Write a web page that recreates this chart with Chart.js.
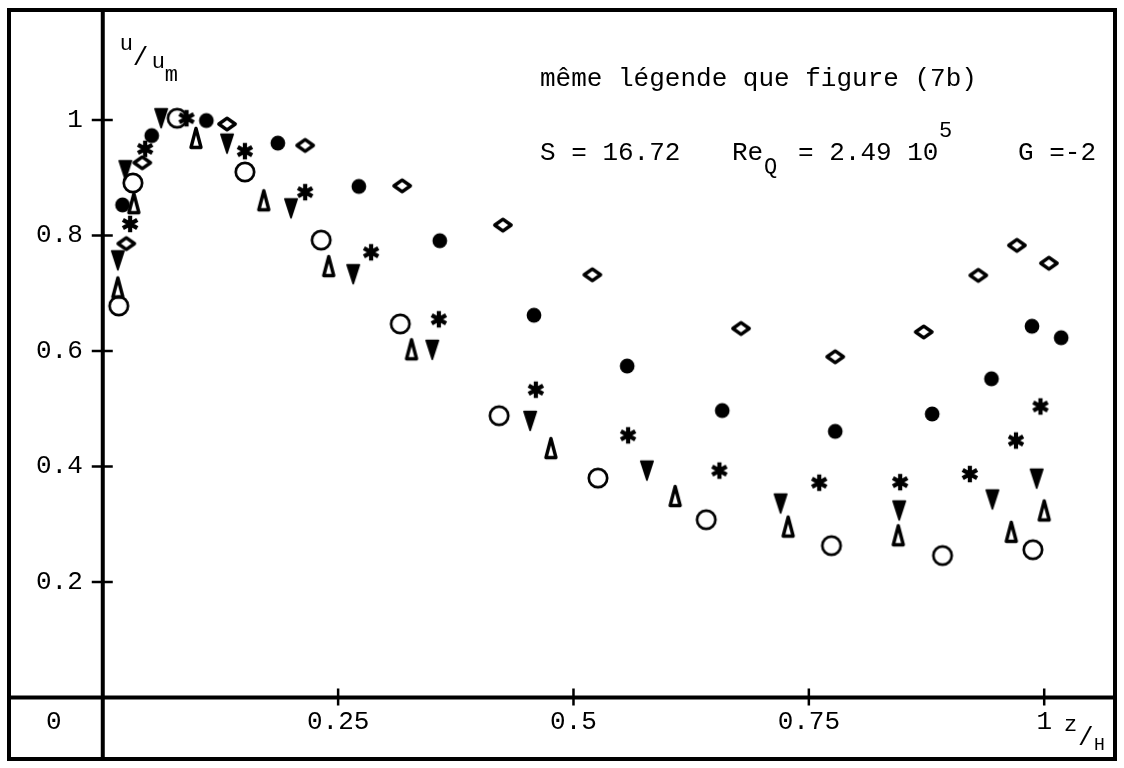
<!DOCTYPE html>
<html lang="fr">
<head>
  <meta charset="UTF-8" />
  <title>u/um en fonction de z/H</title>
  <script src="https://cdn.jsdelivr.net/npm/chart.js"></script>
  <style>
    html, body { margin: 0; padding: 0; background: #fff; }
    #wrap { width: 1124px; height: 768px; }
  </style>
</head>
<body>
  <div id="wrap"><canvas id="profil" width="1124" height="768"></canvas></div>

  <script>
    // axis ticks
    const xTicks = [0.25, 0.5, 0.75, 1];
    const xTickLabels = ['0.25', '0.5', '0.75', '1'];
    const yTicks = [0.2, 0.4, 0.6, 0.8, 1];
    const yTickLabels = ['0.2', '0.4', '0.6', '0.8', '1'];

    // velocity profiles, z/H -> u/um (six series)
    const circleX = [0.017, 0.032, 0.079, 0.151, 0.232, 0.316, 0.421, 0.526, 0.641, 0.774, 0.892, 0.988];
    const circleY = [0.678, 0.891, 1.003, 0.910, 0.792, 0.647, 0.488, 0.380, 0.308, 0.263, 0.246, 0.256];

    const dotX = [0.021, 0.052, 0.110, 0.186, 0.272, 0.358, 0.458, 0.557, 0.658, 0.778, 0.881, 0.944, 0.987, 1.018];
    const dotY = [0.853, 0.973, 0.999, 0.960, 0.885, 0.791, 0.662, 0.574, 0.497, 0.461, 0.491, 0.552, 0.643, 0.623];

    const diamondX = [0.025, 0.042, 0.132, 0.215, 0.318, 0.425, 0.520, 0.678, 0.778, 0.872, 0.930, 0.971, 1.005];
    const diamondY = [0.786, 0.926, 0.993, 0.956, 0.886, 0.818, 0.732, 0.639, 0.590, 0.633, 0.731, 0.783, 0.752];

    const starX = [0.029, 0.045, 0.089, 0.151, 0.215, 0.285, 0.357, 0.460, 0.558, 0.655, 0.761, 0.847, 0.921, 0.970, 0.996];
    const starY = [0.820, 0.950, 1.003, 0.946, 0.875, 0.771, 0.655, 0.533, 0.454, 0.393, 0.372, 0.373, 0.387, 0.445, 0.504];

    const triDownX = [0.016, 0.024, 0.062, 0.132, 0.200, 0.266, 0.350, 0.454, 0.578, 0.720, 0.846, 0.945, 0.992];
    const triDownY = [0.757, 0.913, 1.003, 0.959, 0.847, 0.733, 0.602, 0.479, 0.393, 0.336, 0.324, 0.343, 0.379];

    const triUpX = [0.016, 0.033, 0.099, 0.171, 0.240, 0.328, 0.476, 0.608, 0.728, 0.845, 0.965, 1.000];
    const triUpY = [0.710, 0.856, 0.969, 0.861, 0.747, 0.603, 0.432, 0.349, 0.296, 0.281, 0.287, 0.324];

    const FONT = '"Liberation Mono", "DejaVu Sans Mono", monospace';

    // small canvases used as point styles
    function marker(w, h, draw) {
      const c = document.createElement('canvas');
      c.width = w;
      c.height = h;
      const g = c.getContext('2d');
      g.strokeStyle = '#000';
      g.fillStyle = '#000';
      g.lineJoin = 'round';
      draw(g, w / 2, h / 2);
      return c;
    }

    const openCircle = marker(26, 26, (g, cx, cy) => {
      g.lineWidth = 2.7;
      g.beginPath();
      g.arc(cx, cy, 9.2, 0, Math.PI * 2);
      g.stroke();
    });

    const filledCircle = marker(18, 18, (g, cx, cy) => {
      g.beginPath();
      g.arc(cx, cy, 7.4, 0, Math.PI * 2);
      g.fill();
    });

    const openDiamond = marker(26, 20, (g, cx, cy) => {
      g.lineWidth = 3.4;
      g.beginPath();
      g.moveTo(cx, cy - 5.8);
      g.lineTo(cx + 8.2, cy);
      g.lineTo(cx, cy + 5.8);
      g.lineTo(cx - 8.2, cy);
      g.closePath();
      g.stroke();
    });

    const asterisk = marker(22, 22, (g, cx, cy) => {
      g.lineWidth = 4.2;
      g.beginPath();
      [90, 30, 150].forEach(d => {
        const r = d * Math.PI / 180;
        g.moveTo(cx - 8.3 * Math.cos(r), cy - 8.3 * Math.sin(r));
        g.lineTo(cx + 8.3 * Math.cos(r), cy + 8.3 * Math.sin(r));
      });
      g.stroke();
      g.beginPath();
      g.arc(cx, cy, 3.4, 0, Math.PI * 2);
      g.fill();
    });

    const filledTriDown = marker(18, 24, (g, cx, cy) => {
      g.lineWidth = 1.6;
      g.beginPath();
      g.moveTo(cx - 6.2, cy - 9.5);
      g.lineTo(cx + 6.2, cy - 9.5);
      g.lineTo(cx, cy + 9.5);
      g.closePath();
      g.fill();
      g.stroke();
    });

    const openTriUp = marker(18, 26, (g, cx, cy) => {
      g.lineWidth = 3.4;
      g.beginPath();
      g.moveTo(cx, cy - 9.5);
      g.lineTo(cx + 5, cy + 9.5);
      g.lineTo(cx - 5, cy + 9.5);
      g.closePath();
      g.stroke();
    });

    const pts = (xs, ys) => xs.map((v, i) => ({ x: v, y: ys[i] }));

    // frame, axes through the origin, ticks and all the typed text
    const framePlugin = {
      id: 'cadre',
      beforeDatasetsDraw(chart) {
        const { ctx, chartArea: a, scales: { x, y } } = chart;
        const x0 = x.getPixelForValue(0);
        const y0 = y.getPixelForValue(0);

        ctx.save();
        ctx.strokeStyle = '#000';
        ctx.fillStyle = '#000';

        ctx.lineWidth = 4;
        ctx.strokeRect(a.left, a.top, a.right - a.left, a.bottom - a.top);

        ctx.beginPath();
        ctx.moveTo(x0, a.top);
        ctx.lineTo(x0, a.bottom);
        ctx.moveTo(a.left, y0);
        ctx.lineTo(a.right, y0);
        ctx.stroke();

        ctx.lineWidth = 2.5;
        ctx.beginPath();
        yTicks.forEach(v => {
          const p = y.getPixelForValue(v);
          ctx.moveTo(x0 - 11, p);
          ctx.lineTo(x0 + 10, p);
        });
        xTicks.forEach(v => {
          const p = x.getPixelForValue(v);
          ctx.moveTo(p, y0 - 9);
          ctx.lineTo(p, y0 + 8);
        });
        ctx.stroke();

        // tick labels
        ctx.font = '26px ' + FONT;
        ctx.textAlign = 'right';
        ctx.textBaseline = 'middle';
        yTicks.forEach((v, i) => ctx.fillText(yTickLabels[i], x0 - 20, y.getPixelForValue(v)));

        ctx.textAlign = 'center';
        ctx.textBaseline = 'alphabetic';
        xTicks.forEach((v, i) => ctx.fillText(xTickLabels[i], x.getPixelForValue(v), y0 + 31));
        ctx.fillText('0', x0 - 49, y0 + 31);

        // axis titles
        ctx.textAlign = 'left';
        ctx.font = '22px ' + FONT;
        ctx.fillText('u', x0 + 17, 50);
        ctx.font = '26px ' + FONT;
        ctx.fillText('/', x0 + 30, 65);
        ctx.font = '22px ' + FONT;
        ctx.fillText('u', x0 + 49, 68);
        ctx.fillText('m', x0 + 62, 81);

        ctx.fillText('z', 1064, 731);
        ctx.font = '26px ' + FONT;
        ctx.fillText('/', 1078, 745);
        ctx.font = '18px ' + FONT;
        ctx.fillText('H', 1094, 750);

        // run parameters
        ctx.font = '26px ' + FONT;
        ctx.fillText('même légende que figure (7b)', 540, 86);
        ctx.fillText('S = 16.72', 540, 160);
        ctx.fillText('Re', 732, 160);
        ctx.font = '22px ' + FONT;
        ctx.fillText('Q', 764, 173);
        ctx.font = '26px ' + FONT;
        ctx.fillText('= 2.49 10', 798, 160);
        ctx.font = '22px ' + FONT;
        ctx.fillText('5', 939, 137);
        ctx.font = '26px ' + FONT;
        ctx.fillText('G =-2', 1018, 160);

        ctx.restore();
      }
    };

    const common = { showLine: false, pointRadius: 8, pointHoverRadius: 8 };

    new Chart(document.getElementById('profil'), {
      type: 'scatter',
      data: {
        datasets: [
          { ...common, label: 'o', data: pts(circleX, circleY), pointStyle: openCircle },
          { ...common, label: 'dot', data: pts(dotX, dotY), pointStyle: filledCircle },
          { ...common, label: 'losange', data: pts(diamondX, diamondY), pointStyle: openDiamond },
          { ...common, label: 'etoile', data: pts(starX, starY), pointStyle: asterisk },
          { ...common, label: 'tri-bas', data: pts(triDownX, triDownY), pointStyle: filledTriDown },
          { ...common, label: 'tri-haut', data: pts(triUpX, triUpY), pointStyle: openTriUp }
        ]
      },
      options: {
        responsive: false,
        animation: false,
        events: [],
        layout: { padding: { left: 9, top: 10, right: 6, bottom: 2 } },
        plugins: { legend: { display: false }, tooltip: { enabled: false } },
        scales: {
          x: { type: 'linear', display: false, min: -0.0996, max: 1.0752 },
          y: { type: 'linear', display: false, min: -0.1063, max: 1.1904 }
        }
      },
      plugins: [framePlugin]
    });
  </script>
</body>
</html>
